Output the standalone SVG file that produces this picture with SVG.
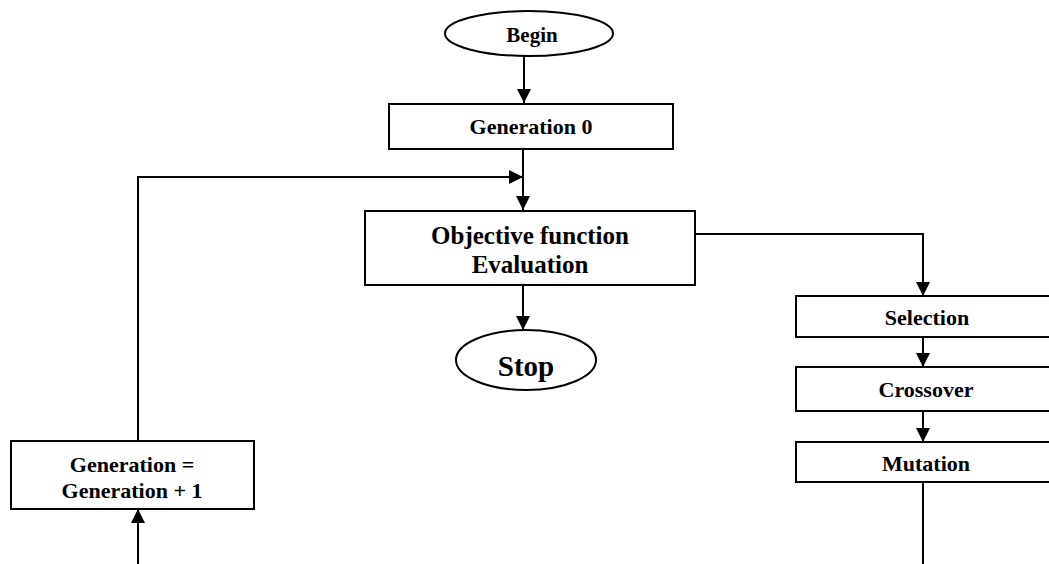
<svg xmlns="http://www.w3.org/2000/svg" width="1049" height="564" viewBox="0 0 1049 564">
<style>
.box{fill:#fff;stroke:#000;stroke-width:2}
.con{fill:none;stroke:#000;stroke-width:2}
text{font-family:"Liberation Serif","Times New Roman",serif;font-weight:bold;fill:#000;text-anchor:middle}
</style>
<defs>
<marker id="arr" viewBox="0 0 14 14" refX="14" refY="7" markerWidth="14" markerHeight="14" markerUnits="userSpaceOnUse" orient="auto">
<path d="M0,0 L14,7 L0,14 z" fill="#000"/>
</marker>
</defs>
<rect width="1049" height="564" fill="#fff"/>
<g id="connectors">
<path class="con" d="M524,56 V103" marker-end="url(#arr)"/>
<path class="con" d="M523,149 V210" marker-end="url(#arr)"/>
<path class="con" d="M138,441 V177 H523" marker-end="url(#arr)"/>
<path class="con" d="M523,285 V330" marker-end="url(#arr)"/>
<path class="con" d="M695,234 H923 V296" marker-end="url(#arr)"/>
<path class="con" d="M923,337 V367" marker-end="url(#arr)"/>
<path class="con" d="M923,411 V442" marker-end="url(#arr)"/>
<path class="con" d="M923,482 V564"/>
<path class="con" d="M138,564 V509" marker-end="url(#arr)"/>
</g>
<g id="begin">
<ellipse class="box" cx="529" cy="33.5" rx="84" ry="22.5"/>
<text x="532" y="42" font-size="21">Begin</text>
</g>
<g id="gen0">
<rect class="box" x="389" y="104" width="284" height="45"/>
<text x="531" y="134" font-size="22">Generation 0</text>
</g>
<g id="objective">
<rect class="box" x="365" y="211" width="330" height="74"/>
<text x="530" y="244" font-size="25">Objective function</text>
<text x="530" y="273" font-size="25">Evaluation</text>
</g>
<g id="stop">
<ellipse class="box" cx="526" cy="360" rx="70" ry="30"/>
<text x="526" y="376" font-size="29">Stop</text>
</g>
<g id="selection">
<rect class="box" x="796" y="296" width="262" height="41"/>
<text x="927" y="325" font-size="22">Selection</text>
</g>
<g id="crossover">
<rect class="box" x="796" y="367" width="262" height="44"/>
<text x="926" y="397" font-size="22">Crossover</text>
</g>
<g id="mutation">
<rect class="box" x="796" y="442" width="262" height="40"/>
<text x="926" y="471" font-size="22">Mutation</text>
</g>
<g id="increment">
<rect class="box" x="11" y="441" width="243" height="68"/>
<text x="132" y="472" font-size="22">Generation =</text>
<text x="132" y="498" font-size="22">Generation + 1</text>
</g>
</svg>
